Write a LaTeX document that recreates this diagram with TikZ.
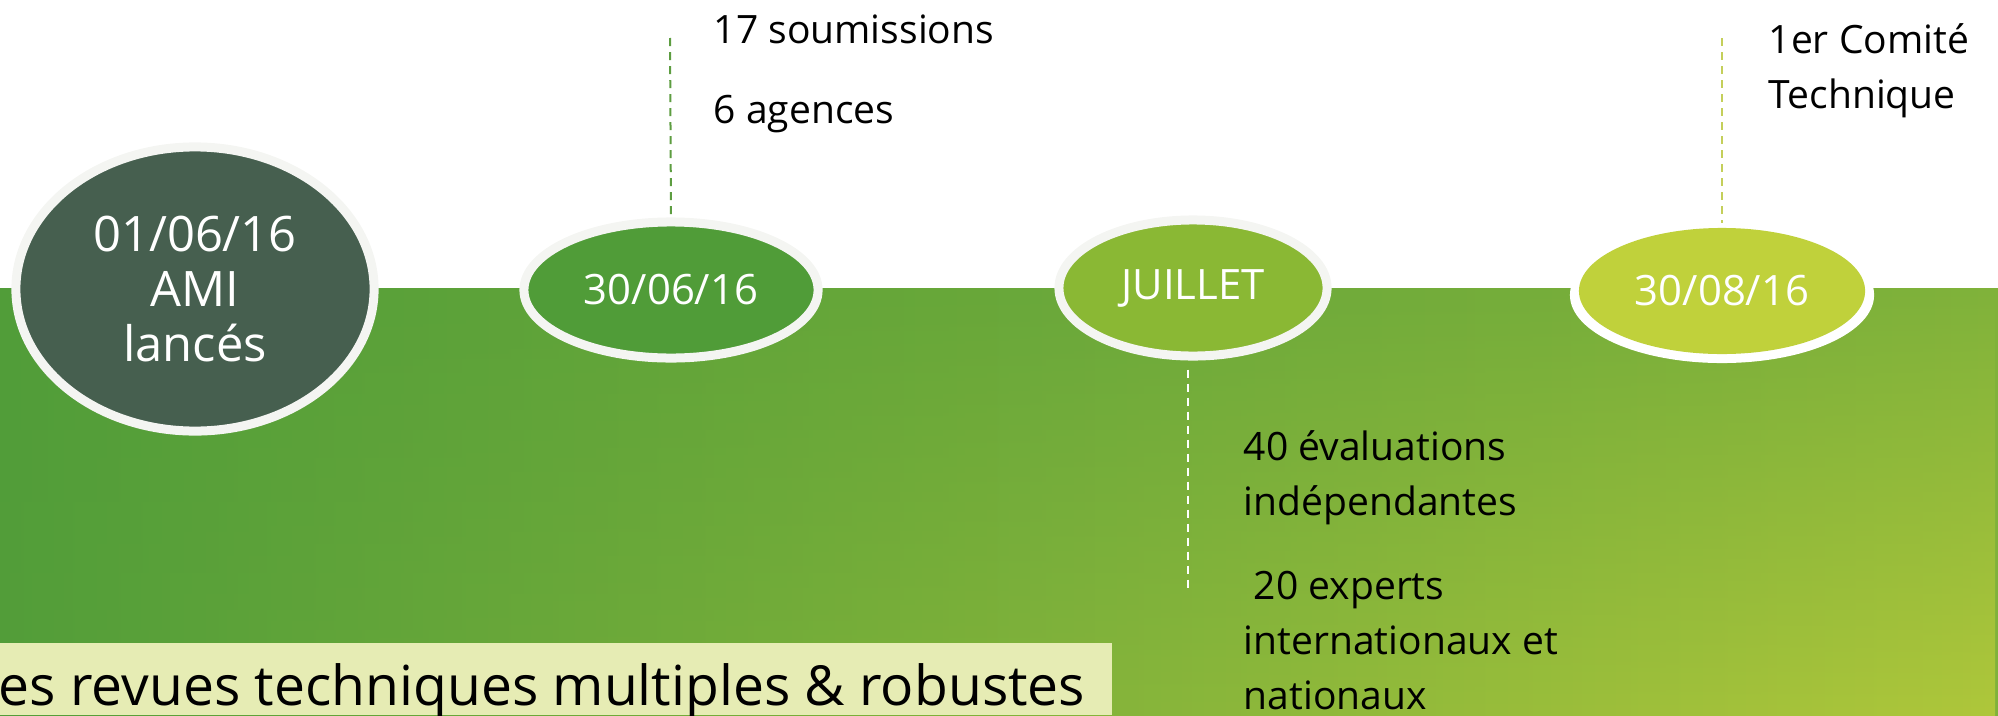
\documentclass[tikz,border=0pt]{standalone}
\usepackage{fontspec}
\setmainfont{Open Sans}
\usepackage{xcolor}
\usepackage{tikz}
\usetikzlibrary{shapes.geometric, positioning, fadings}
\definecolor{topA}{HTML}{519D39}
\definecolor{topB}{HTML}{7BB03A}
\definecolor{topC}{HTML}{80B23A}
\definecolor{lowA}{HTML}{539E39}
\definecolor{lowB}{HTML}{88B73A}
\definecolor{lowC}{HTML}{AFC73A}
\definecolor{bannerfill}{HTML}{E6ECB4}
\definecolor{slategreen}{HTML}{465F4F}
\definecolor{junegreen}{HTML}{509C38}
\definecolor{julygreen}{HTML}{8AB834}
\definecolor{auggreen}{HTML}{C0D13B}
\definecolor{juneline}{HTML}{5D9D41}
\definecolor{augline}{HTML}{C4CF5A}
\definecolor{ringwhite}{HTML}{F4F5F2}
\tikzfading[name=fadedown, top color=transparent!100, bottom color=transparent!0]
\tikzstyle{milestone} = [ellipse, draw=ringwhite, line width=0.09cm, inner sep=0pt, text=white, align=center, font=\fontsize{11.9}{15.6}\selectfont]
\tikzstyle{smallstone} = [milestone, minimum width=2.94cm, minimum height=1.36cm]
\tikzstyle{note} = [anchor=base west, inner sep=0pt, align=left, font=\fontsize{11.1}{15.6}\selectfont]
\tikzstyle{guide} = [line width=0.02cm, dash pattern=on 0.08cm off 0.06cm]

\begin{document}
\begin{tikzpicture}[x=0.01cm, y=-0.01cm]
        \useasboundingbox (0,0) rectangle (1998,715);
        \shade[left color=topA, middle color=topB, right color=topC] (0,288) rectangle (1998,715);
        \shade[left color=lowA, middle color=lowB, right color=lowC, path fading=fadedown] (0,288) rectangle (1998,715);
        \fill[bannerfill] (0,643) rectangle (1112,715);
        \node[anchor=base west, inner sep=0pt, font=\fontsize{15.7}{18}\selectfont] (banner) at (-2,705) {es revues techniques multiples \& robustes};
        \node[milestone, fill=slategreen, minimum width=3.58cm, minimum height=2.84cm, font=\fontsize{13.9}{15.6}\selectfont] (launch) at (195,289) {01/06/16\\AMI\\lancés};
        \node[smallstone, fill=junegreen] (june) at (671,290) {30/06/16};
        \node[milestone, fill=julygreen, minimum width=2.68cm, minimum height=1.36cm] (july) at (1193,288) {JUILLET};
        \node[ellipse, fill=white, minimum width=3.04cm, minimum height=1.36cm, inner sep=0pt] (augring) at (1722,295) {};
        \node[smallstone, draw=none, fill=auggreen, minimum width=2.86cm, minimum height=1.26cm] (aug) at (1722,291) {30/08/16};
        \coordinate (juneTop) at (670,38);
        \coordinate (augTop) at (1722,38);
        \coordinate (julyEnd) at (1188,591);
        \draw[guide, draw=juneline] (juneTop) -- (june.north);
        \draw[guide, draw=augline] (augTop) -- (aug.north);
        \draw[guide, draw=white, shorten <=0.09cm] (july.south -| julyEnd) -- (julyEnd);
        \node[note] (subm) at (713,43) {17 soumissions};
        \node[note] (agencies) at (713,123) {6 agences};
        \node[note] (committee) at (1768,108) {1er Comité\\Technique};
        \node[note] (evals) at (1243,515) {40 évaluations\\indépendantes};
        \node[note] (experts) at (1243,709) {\ 20 experts\\internationaux et\\nationaux};
    \end{tikzpicture}
\end{document}
